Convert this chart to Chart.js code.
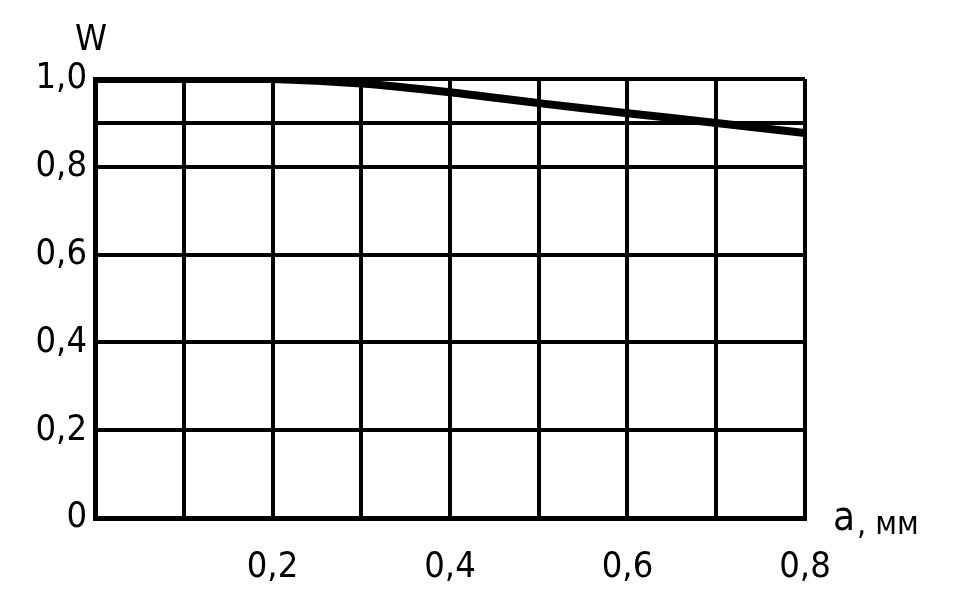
<!DOCTYPE html>
<html>
<head>
<meta charset="utf-8">
<script src="https://cdn.jsdelivr.net/npm/chart.js@4"></script>
<style>
    html, body { margin: 0; padding: 0; background: #fff; }
    #wrap { width: 980px; height: 612px; }
</style>
</head>
<body>
<div id="wrap"><canvas id="chart" width="980" height="612"></canvas></div>
<script>
// --- data ---
const thickness = [0, 0.1, 0.2, 0.3, 0.4, 0.5, 0.6, 0.7, 0.8];        // a, мм
const wValues = [1.0, 1.0, 1.0, 0.99, 0.97, 0.945, 0.922, 0.90, 0.877]; // W
const xGridValues = [0, 0.1, 0.2, 0.3, 0.4, 0.5, 0.6, 0.7, 0.8];
const xTickLabels = [0.2, 0.4, 0.6, 0.8];
const yGridValues = [0, 0.2, 0.4, 0.6, 0.8, 0.9, 1.0];
const yTickLabels = [0, 0.2, 0.4, 0.6, 0.8, 1.0];

const FONT = "'DejaVu Sans Condensed', 'Liberation Sans Narrow', sans-serif";
const near = (v, list) => list.some(t => Math.abs(t - v) < 1e-6);
const comma = v => v === 0 ? '0' : v.toFixed(1).replace('.', ',');

// axis captions (W, a, мм)
const captions = {
    id: 'captions',
    afterDraw(chart) {
        const { ctx, chartArea } = chart;
        ctx.save();
        ctx.fillStyle = '#000';
        ctx.textBaseline = 'middle';
        ctx.font = '36px ' + FONT;
        ctx.textAlign = 'left';
        ctx.fillText('W', chartArea.left - 20, chartArea.top - 38);
        ctx.font = '40px ' + FONT;
        ctx.fillText('a', chartArea.right + 28, chartArea.bottom + 2);
        ctx.font = '32px ' + FONT;
        ctx.fillText(', мм', chartArea.right + 52, chartArea.bottom + 8);
        ctx.restore();
    }
};

new Chart(document.getElementById('chart'), {
    type: 'line',
    data: {
        datasets: [{
            data: thickness.map((x, i) => ({ x, y: wValues[i] })),
            borderColor: '#000',
            borderWidth: 8,
            pointRadius: 0,
            tension: 0.3,
            fill: false
        }]
    },
    options: {
        responsive: false,
        animation: false,
        layout: { padding: { left: 0, top: 79, right: 175, bottom: 0 } },
        plugins: { legend: { display: false }, tooltip: { enabled: false } },
        scales: {
            x: {
                type: 'linear',
                min: 0,
                max: 0.8,
                afterFit: s => { s.height = 94; },
                afterBuildTicks: s => { s.ticks = xGridValues.map(value => ({ value })); },
                border: { display: true, color: '#000', width: 5 },
                grid: { color: '#000', lineWidth: 4, drawTicks: false },
                ticks: {
                    autoSkip: false,
                    padding: 28,
                    color: '#000',
                    font: { family: FONT, size: 36 },
                    callback: v => (v > 0 && near(v, xTickLabels)) ? comma(v) : ''
                }
            },
            y: {
                min: 0,
                max: 1.0,
                afterFit: s => { s.width = 95; },
                afterBuildTicks: s => { s.ticks = yGridValues.map(value => ({ value })); },
                border: { display: true, color: '#000', width: 5 },
                grid: { color: '#000', lineWidth: 4, drawTicks: false },
                ticks: {
                    autoSkip: false,
                    padding: 8,
                    color: '#000',
                    font: { family: FONT, size: 36 },
                    callback: v => near(v, yTickLabels) ? comma(v) : ''
                }
            }
        }
    },
    plugins: [captions]
});
</script>
</body>
</html>
